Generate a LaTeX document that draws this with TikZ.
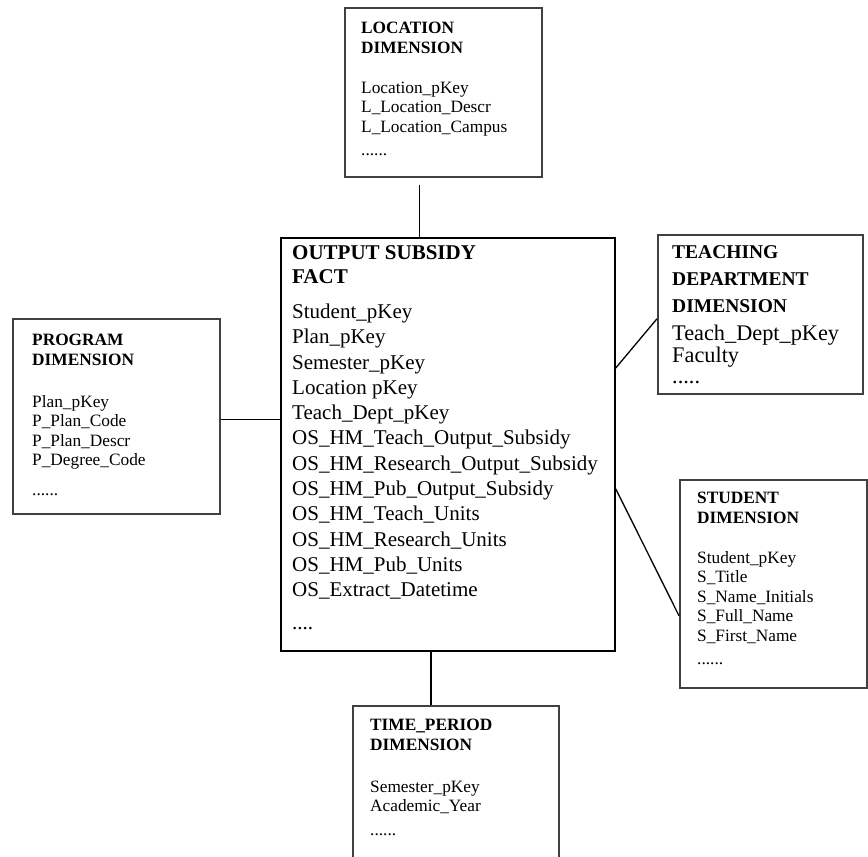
\documentclass[tikz,border=0pt]{standalone}
\usepackage{fontspec}
\setmainfont{Liberation Serif}
\usepackage{tikz}
\usetikzlibrary{positioning, calc}
\newcommand{\tdtitle}[1]{{\fontsize{19.5}{27}\selectfont\bfseries #1}}
\tikzset{
    box_dim/.style={
        rectangle, draw=black!75, line width=1.5pt, fill=white,
        anchor=north west, inner sep=0pt
    },
    box_fact/.style={
        rectangle, draw=black, line width=1.8pt, fill=white,
        anchor=north west, inner sep=0pt
    },
    txt_dim/.style={
        anchor=north west, align=left, inner sep=0pt,
        font=\fontsize{17.3}{19.5}\selectfont
    },
    txt_fact/.style={
        anchor=north west, align=left, inner sep=0pt,
        font=\fontsize{21}{25.3}\selectfont
    },
    link_line/.style={
        draw=black, line width=1.3pt
    }
}

\begin{document}
\begin{tikzpicture}[x=1pt, y=-1pt]
    \useasboundingbox (0,0) rectangle (868,857);

    % Boxes: fact in the middle, dimensions round it
    \node[box_dim, minimum width=197, minimum height=169] (loc) at (344, 7) {};
    \node[box_fact, minimum width=334, minimum height=413] (fact) at (280, 237) {};
    \node[box_dim, minimum width=207, minimum height=195] (prog) at (12, 318) {};
    \node[box_dim, minimum width=205, minimum height=159] (teach) at (657, 234) {};
    \node[box_dim, minimum width=187, minimum height=208] (stud) at (679, 479) {};
    \node[box_dim, minimum width=206, minimum height=170] (time) at (352, 705) {};

    % Box contents
    \node[txt_dim] (loc_txt) at (361, 22) {\textbf{LOCATION}\\\textbf{DIMENSION}\\[20.5pt]
        Location\_pKey\\L\_Location\_Descr\\L\_Location\_Campus\\[4pt]......};
    \node[txt_dim] (prog_txt) at (32, 334) {\textbf{PROGRAM}\\\textbf{DIMENSION}\\[22.5pt]
        Plan\_pKey\\P\_Plan\_Code\\P\_Plan\_Descr\\P\_Degree\_Code\\[10pt]......};
    \node[txt_dim] (stud_txt) at (697, 492) {\textbf{STUDENT}\\\textbf{DIMENSION}\\[20.5pt]
        Student\_pKey\\S\_Title\\S\_Name\_Initials\\S\_Full\_Name\\S\_First\_Name\\[4pt]......};
    \node[txt_dim] (time_txt) at (370, 719) {\textbf{TIME\_PERIOD}\\\textbf{DIMENSION}\\[22.5pt]
        Semester\_pKey\\Academic\_Year\\[4pt]......};
    \node[txt_fact] (fact_txt) at (292, 245) {\textbf{OUTPUT SUBSIDY}\\[-1.3pt]\textbf{FACT}\\[10pt]
        Student\_pKey\\Plan\_pKey\\Semester\_pKey\\Location pKey\\Teach\_Dept\_pKey\\
        OS\_HM\_Teach\_Output\_Subsidy\\OS\_HM\_Research\_Output\_Subsidy\\OS\_HM\_Pub\_Output\_Subsidy\\
        OS\_HM\_Teach\_Units\\OS\_HM\_Research\_Units\\OS\_HM\_Pub\_Units\\OS\_Extract\_Datetime\\[7pt]....};
    \node[txt_fact, font=\fontsize{22.3}{25.3}\selectfont] (teach_txt) at (672, 245) {\tdtitle{TEACHING}\\[1.7pt]\tdtitle{DEPARTMENT}\\[1.7pt]\tdtitle{DIMENSION}\\[2.7pt]
        Teach\_Dept\_pKey\\[-2.8pt]Faculty\\[-4pt].....};

    % Links from fact to each dimension
    \draw[link_line] ([xshift=-23.5pt, yshift=-7pt]loc.south) -- ([xshift=-23.5pt]loc.south |- fact.north);
    \draw[link_line] ([yshift=-3.5pt]prog.east) -- ([yshift=-3.5pt]prog.east -| fact.west);
    \draw[link_line] ([yshift=76.5pt]fact.east) -- ([yshift=-4.5pt]teach.west);
    \draw[link_line] ([yshift=-44.5pt]fact.east) -- ([yshift=-32pt]stud.west);
    \draw[link_line] ([xshift=-17pt]fact.south) -- ([xshift=-17pt]fact.south |- time.north);
\end{tikzpicture}
\end{document}
